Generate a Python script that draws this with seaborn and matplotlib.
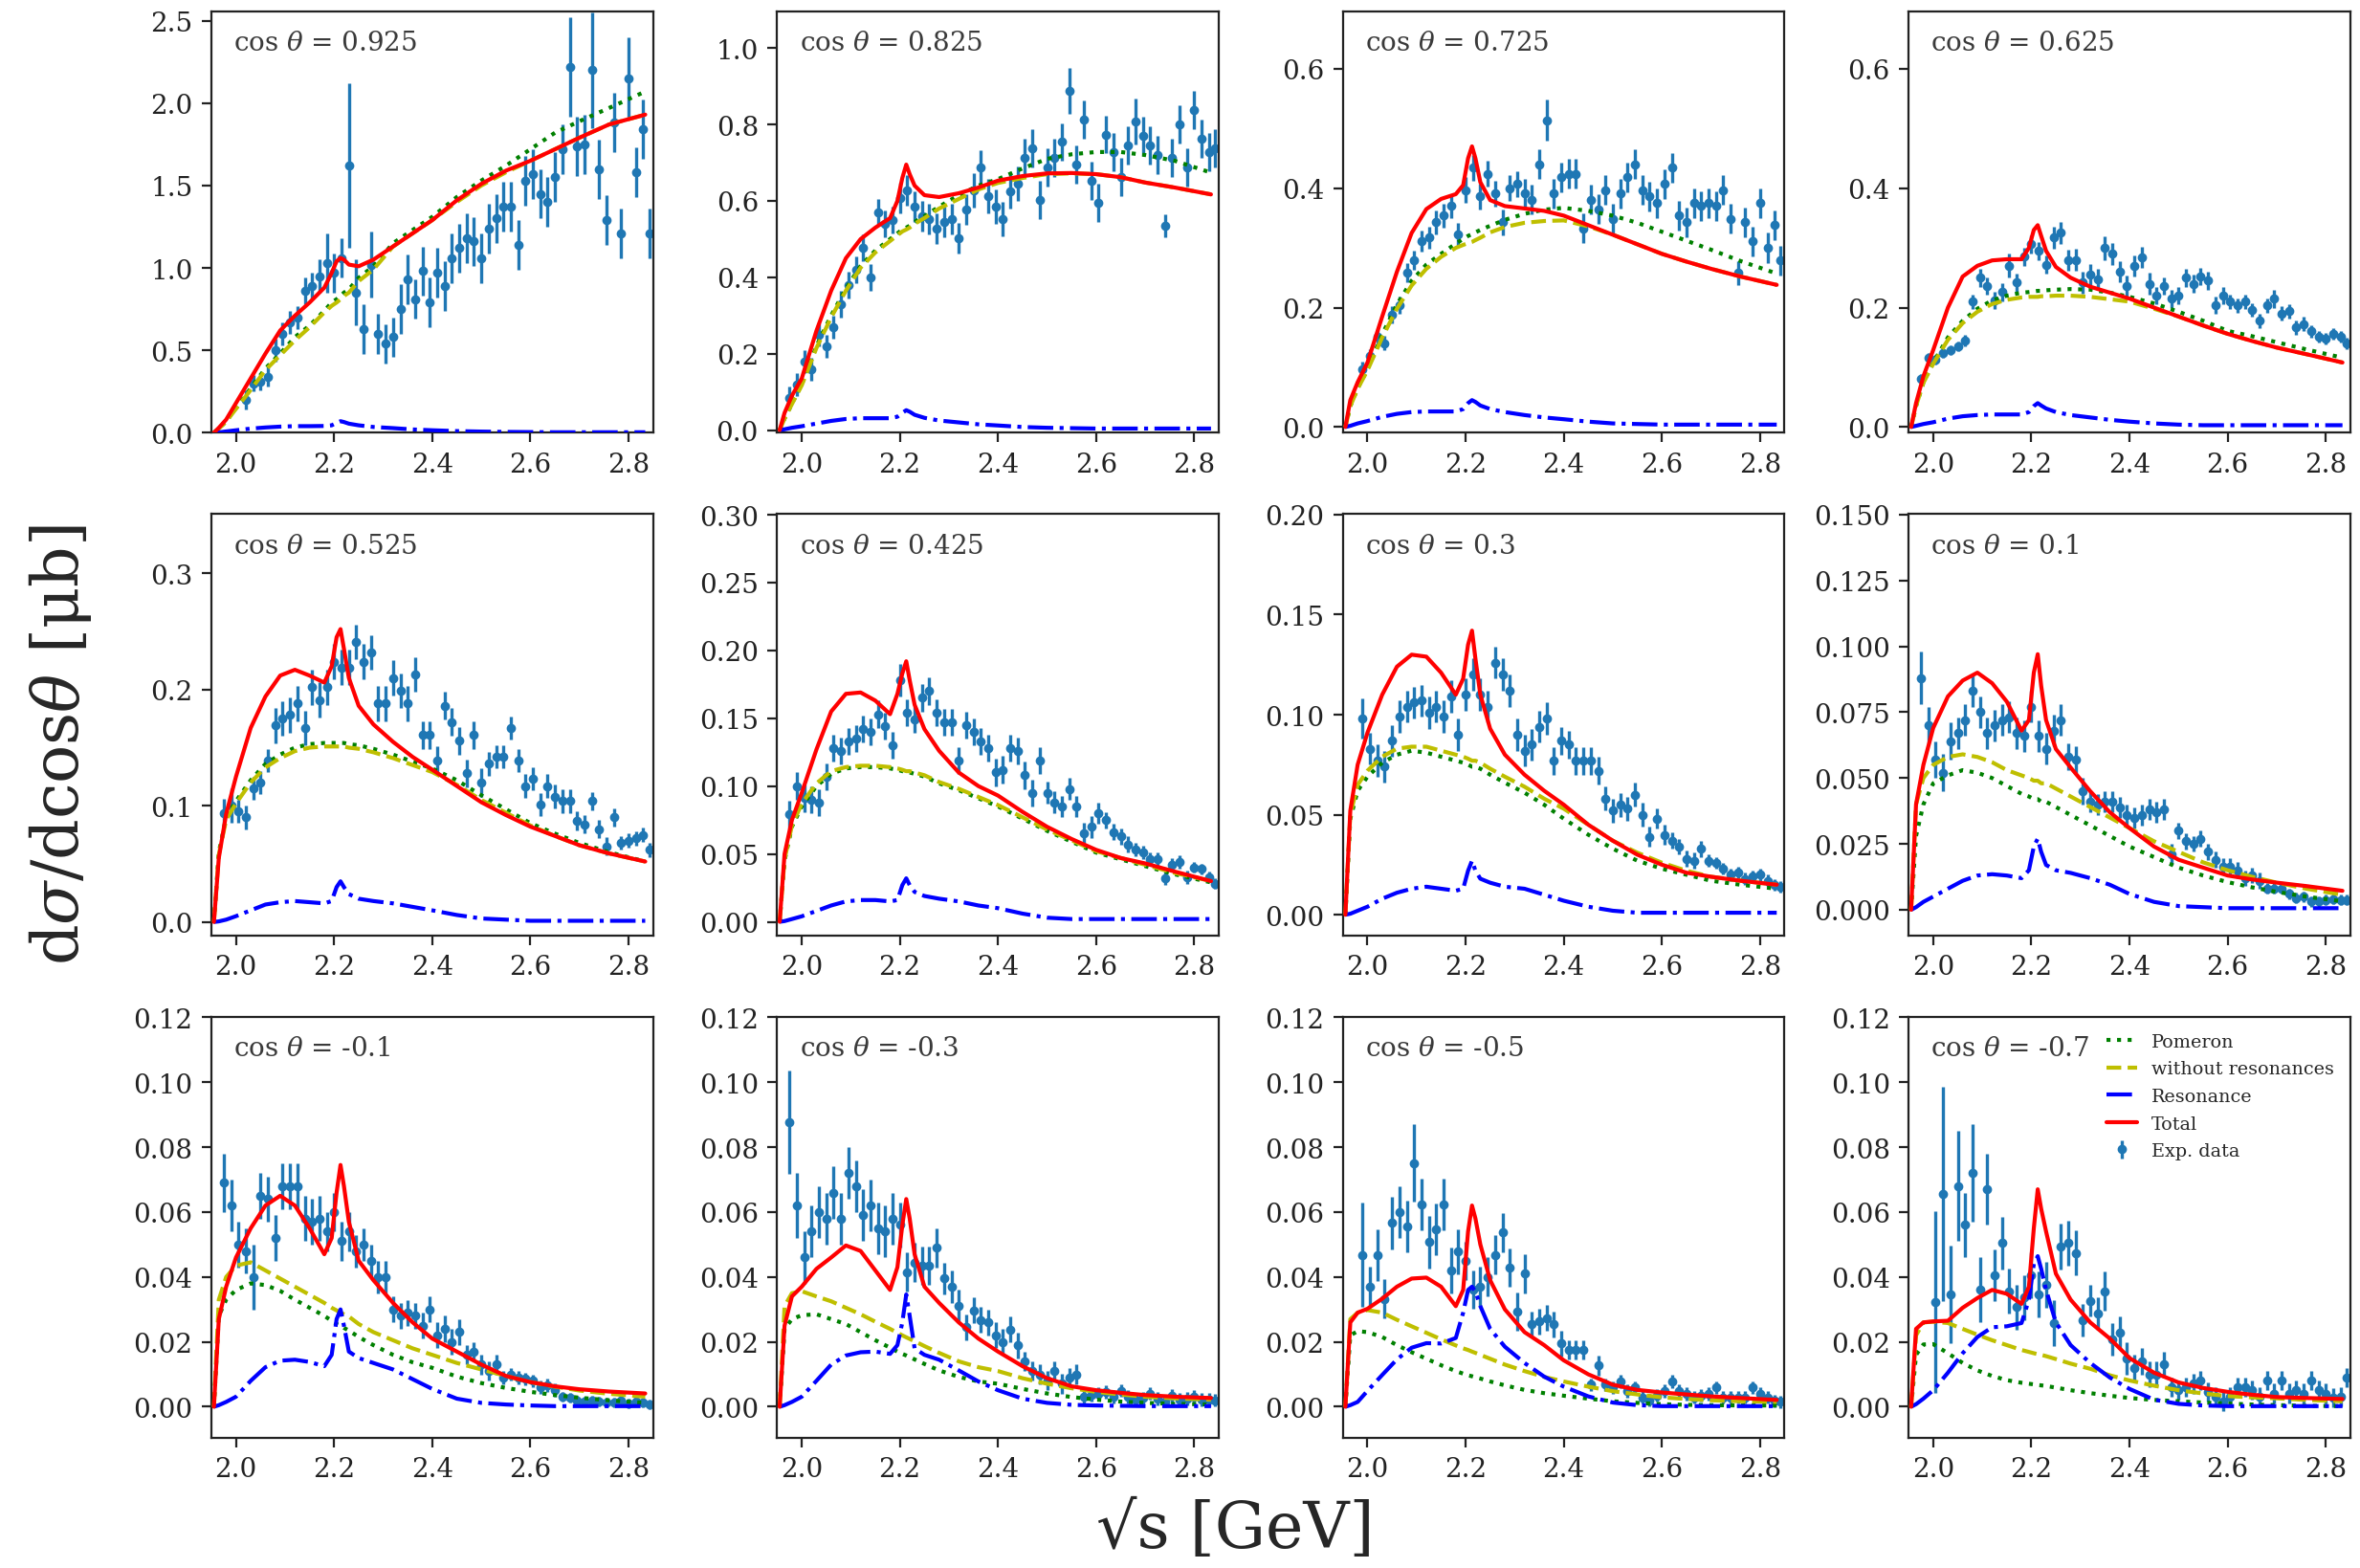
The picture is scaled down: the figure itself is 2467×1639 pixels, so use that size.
import numpy as np
import pandas as pd
import matplotlib
matplotlib.use("Agg")
import matplotlib.pyplot as plt
import seaborn as sns
from matplotlib.ticker import MultipleLocator

nan = float("nan")

# ---------------- data ----------------
angles = ["0.925", "0.825", "0.725", "0.625", "0.525", "0.425",
          "0.3", "0.1", "-0.1", "-0.3", "-0.5", "-0.7"]

x_data = [1.975, 1.990, 2.005, 2.020, 2.035, 2.050, 2.065, 2.080, 2.095, 2.110,
          2.125, 2.140, 2.155, 2.170, 2.185, 2.200, 2.215, 2.230, 2.245, 2.260,
          2.275, 2.290, 2.305, 2.320, 2.335, 2.350, 2.365, 2.380, 2.395, 2.410,
          2.425, 2.440, 2.455, 2.470, 2.485, 2.500, 2.515, 2.530, 2.545, 2.560,
          2.575, 2.590, 2.605, 2.620, 2.635, 2.650, 2.665, 2.680, 2.695, 2.710,
          2.725, 2.740, 2.755, 2.770, 2.785, 2.800, 2.815, 2.830, 2.842]

x_curve = [1.955, 1.965, 1.98, 2.0, 2.03, 2.06, 2.09, 2.12, 2.15, 2.18,
           2.195, 2.205, 2.213, 2.22, 2.23, 2.25, 2.28, 2.32, 2.36, 2.4,
           2.45, 2.5, 2.55, 2.6, 2.65, 2.7, 2.76, 2.834]

# experimental data (value, error) per angle
y_0925 = [nan, nan, nan, 0.20, 0.30, 0.31, 0.34, 0.50, 0.60, 0.67,
          0.70, 0.86, 0.89, 0.95, 1.03, 0.97, 1.06, 1.62, 0.85, 0.63,
          1.02, 0.60, 0.54, 0.58, 0.75, 0.93, 0.81, 0.98, 0.79, 0.97,
          0.89, 1.06, 1.12, 1.18, 1.16, 1.06, 1.24, 1.30, 1.37, 1.37,
          1.14, 1.53, 1.57, 1.45, 1.40, 1.55, 1.72, 2.22, 1.74, 1.75,
          2.20, 1.60, 1.29, 1.88, 1.21, 2.15, 1.58, 1.84, 1.21]
e_0925 = [0, 0, 0, 0.06, 0.05, 0.05, 0.06, 0.07, 0.07, 0.07,
          0.07, 0.08, 0.08, 0.10, 0.18, 0.12, 0.12, 0.50, 0.20, 0.15,
          0.20, 0.12, 0.12, 0.12, 0.15, 0.15, 0.12, 0.15, 0.15, 0.15,
          0.15, 0.15, 0.15, 0.15, 0.15, 0.15, 0.15, 0.15, 0.15, 0.15,
          0.15, 0.15, 0.15, 0.15, 0.15, 0.15, 0.15, 0.30, 0.18, 0.18,
          0.35, 0.18, 0.15, 0.18, 0.15, 0.25, 0.15, 0.18, 0.15]

y_0825 = [0.085, 0.12, 0.18, 0.16, 0.25, 0.22, 0.27, 0.33, 0.38, 0.42,
          0.478, 0.40, 0.57, 0.54, 0.55, 0.607, 0.628, 0.586, 0.56, 0.553,
          0.528, 0.545, 0.553, 0.503, 0.578, 0.628, 0.687, 0.612, 0.586, 0.553,
          0.624, 0.645, 0.712, 0.737, 0.603, 0.687, 0.712, 0.754, 0.887, 0.695,
          0.812, 0.653, 0.595, 0.774, 0.728, 0.662, 0.745, 0.808, 0.77, 0.745,
          0.72, 0.536, 0.712, 0.80, 0.687, 0.837, 0.762, 0.728, 0.737]
e_0825 = [0.03, 0.03, 0.03, 0.03, 0.03, 0.03, 0.03, 0.035, 0.035, 0.035,
          0.035, 0.035, 0.035, 0.035, 0.035, 0.04, 0.04, 0.04, 0.04, 0.04,
          0.04, 0.04, 0.04, 0.04, 0.04, 0.045, 0.045, 0.045, 0.045, 0.045,
          0.045, 0.045, 0.05, 0.05, 0.05, 0.05, 0.05, 0.05, 0.06, 0.05,
          0.05, 0.05, 0.05, 0.05, 0.05, 0.05, 0.05, 0.06, 0.05, 0.05,
          0.05, 0.03, 0.05, 0.05, 0.05, 0.05, 0.05, 0.05, 0.05]

y_0725 = [nan, 0.097, 0.119, 0.151, 0.14, 0.188, 0.204, 0.258, 0.279, 0.311,
          0.317, 0.343, 0.354, 0.37, 0.322, 0.397, 0.434, 0.386, 0.424, 0.391,
          0.343, 0.40, 0.407, 0.391, 0.381, 0.44, 0.514, 0.391, 0.418, 0.424,
          0.424, 0.333, 0.381, 0.365, 0.397, 0.349, 0.391, 0.418, 0.44, 0.397,
          0.386, 0.375, 0.407, 0.434, 0.354, 0.343, 0.375, 0.37, 0.375, 0.37,
          0.397, 0.349, 0.258, 0.343, 0.311, 0.375, 0.30, 0.338, 0.279]
e_0725 = [0, 0.012, 0.012, 0.012, 0.012, 0.014, 0.014, 0.016, 0.016, 0.018,
          0.018, 0.02, 0.02, 0.02, 0.02, 0.022, 0.022, 0.022, 0.022, 0.022,
          0.022, 0.022, 0.022, 0.025, 0.025, 0.025, 0.035, 0.025, 0.025, 0.025,
          0.025, 0.025, 0.025, 0.025, 0.025, 0.025, 0.025, 0.025, 0.025, 0.025,
          0.025, 0.025, 0.025, 0.025, 0.025, 0.025, 0.025, 0.025, 0.025, 0.025,
          0.025, 0.025, 0.02, 0.025, 0.025, 0.025, 0.025, 0.025, 0.025]

y_0625 = [0.081, 0.116, 0.112, 0.124, 0.129, 0.135, 0.145, 0.21, 0.25, 0.236,
          0.212, 0.226, 0.27, 0.242, 0.285, 0.306, 0.295, 0.272, 0.317, 0.325,
          0.279, 0.28, 0.242, 0.255, 0.247, 0.30, 0.29, 0.26, 0.236, 0.27,
          0.284, 0.24, 0.22, 0.236, 0.215, 0.22, 0.25, 0.24, 0.252, 0.245,
          0.204, 0.22, 0.21, 0.204, 0.21, 0.196, 0.178, 0.204, 0.215, 0.19,
          0.194, 0.167, 0.172, 0.16, 0.151, 0.148, 0.156, 0.151, 0.14]
e_0625 = [0.008, 0.008, 0.008, 0.008, 0.008, 0.008, 0.01, 0.012, 0.015, 0.015,
          0.015, 0.015, 0.02, 0.015, 0.015, 0.015, 0.015, 0.015, 0.018, 0.018,
          0.018, 0.018, 0.018, 0.018, 0.018, 0.02, 0.018, 0.018, 0.018, 0.018,
          0.018, 0.018, 0.015, 0.015, 0.015, 0.015, 0.015, 0.015, 0.015, 0.015,
          0.015, 0.015, 0.012, 0.012, 0.012, 0.012, 0.012, 0.012, 0.015, 0.012,
          0.012, 0.012, 0.012, 0.01, 0.01, 0.01, 0.01, 0.01, 0.01]

y_0525 = [0.094, 0.10, 0.095, 0.09, 0.115, 0.12, 0.139, 0.169, 0.175, 0.178,
          0.188, 0.167, 0.202, 0.191, 0.202, 0.224, 0.219, 0.219, 0.241, 0.224,
          0.232, 0.188, 0.188, 0.21, 0.199, 0.188, 0.213, 0.161, 0.161, 0.139,
          0.186, 0.172, 0.156, 0.128, 0.161, 0.12, 0.136, 0.142, 0.142, 0.167,
          0.139, 0.117, 0.123, 0.101, 0.117, 0.108, 0.104, 0.104, 0.087, 0.084,
          0.104, 0.08, 0.065, 0.09, 0.068, 0.07, 0.072, 0.075, 0.062]
e_0525 = [0.012, 0.015, 0.01, 0.01, 0.01, 0.01, 0.01, 0.015, 0.015, 0.015,
          0.015, 0.015, 0.015, 0.015, 0.015, 0.015, 0.015, 0.015, 0.015, 0.015,
          0.015, 0.015, 0.015, 0.015, 0.015, 0.015, 0.015, 0.012, 0.012, 0.012,
          0.012, 0.012, 0.012, 0.012, 0.012, 0.012, 0.01, 0.01, 0.01, 0.01,
          0.01, 0.01, 0.01, 0.01, 0.01, 0.01, 0.01, 0.01, 0.008, 0.008,
          0.008, 0.008, 0.008, 0.008, 0.006, 0.006, 0.006, 0.006, 0.006]

y_0425 = [0.079, 0.10, 0.091, 0.09, 0.088, 0.107, 0.128, 0.126, 0.133, 0.135,
          0.142, 0.14, 0.153, 0.144, 0.13, 0.178, 0.154, 0.149, 0.165, 0.17,
          0.154, 0.147, 0.147, 0.119, 0.145, 0.14, 0.133, 0.128, 0.11, 0.112,
          0.128, 0.126, 0.108, 0.095, 0.119, 0.095, 0.088, 0.085, 0.098, 0.085,
          0.065, 0.07, 0.08, 0.075, 0.066, 0.063, 0.057, 0.053, 0.051, 0.046,
          0.046, 0.032, 0.042, 0.044, 0.033, 0.04, 0.039, 0.033, 0.028]
e_0425 = [0.01, 0.01, 0.01, 0.01, 0.01, 0.01, 0.01, 0.01, 0.01, 0.01,
          0.01, 0.01, 0.01, 0.01, 0.01, 0.012, 0.01, 0.01, 0.01, 0.01,
          0.01, 0.01, 0.01, 0.01, 0.01, 0.01, 0.01, 0.01, 0.01, 0.01,
          0.01, 0.01, 0.01, 0.01, 0.01, 0.008, 0.008, 0.008, 0.008, 0.008,
          0.008, 0.008, 0.008, 0.006, 0.006, 0.006, 0.006, 0.005, 0.005, 0.005,
          0.005, 0.005, 0.005, 0.005, 0.005, 0.004, 0.004, 0.004, 0.004]

y_03 = [nan, 0.098, 0.083, 0.077, 0.074, 0.087, 0.099, 0.104, 0.106, 0.107,
        0.101, 0.104, 0.099, 0.109, 0.09, 0.11, 0.12, 0.11, 0.104, 0.126,
        0.12, 0.112, 0.09, 0.082, 0.085, 0.094, 0.098, 0.077, 0.087, 0.085,
        0.077, 0.077, 0.077, 0.072, 0.058, 0.052, 0.055, 0.053, 0.06, 0.05,
        0.039, 0.048, 0.04, 0.037, 0.034, 0.028, 0.027, 0.033, 0.027, 0.026,
        0.023, 0.02, 0.021, 0.018, 0.019, 0.02, 0.017, 0.015, 0.014]
e_03 = [0, 0.01, 0.008, 0.008, 0.008, 0.008, 0.008, 0.008, 0.008, 0.008,
        0.008, 0.008, 0.008, 0.008, 0.008, 0.008, 0.008, 0.008, 0.008, 0.008,
        0.008, 0.008, 0.008, 0.008, 0.008, 0.008, 0.008, 0.007, 0.007, 0.007,
        0.007, 0.007, 0.007, 0.007, 0.006, 0.006, 0.006, 0.006, 0.006, 0.006,
        0.005, 0.005, 0.005, 0.004, 0.004, 0.004, 0.004, 0.004, 0.003, 0.003,
        0.003, 0.003, 0.003, 0.003, 0.003, 0.003, 0.003, 0.003, 0.003]

y_01 = [0.088, 0.07, 0.057, 0.052, 0.064, 0.067, 0.072, 0.083, 0.075, 0.067,
        0.07, 0.072, 0.073, 0.067, 0.066, 0.077, 0.066, 0.061, 0.068, 0.072,
        0.058, 0.057, 0.045, 0.041, 0.040, 0.041, 0.041, 0.039, 0.036, 0.035,
        0.036, 0.038, 0.037, 0.038, 0.021, 0.03, 0.026, 0.025, 0.027, 0.022,
        0.019, 0.0165, 0.0165, 0.015, 0.012, 0.013, 0.011, 0.008, 0.008, 0.008,
        0.006, 0.0045, 0.005, 0.0032, 0.0032, 0.0038, 0.004, 0.0038, 0.0038]
e_01 = [0.01, 0.007, 0.007, 0.007, 0.007, 0.006, 0.006, 0.006, 0.006, 0.006,
        0.006, 0.006, 0.006, 0.006, 0.006, 0.006, 0.006, 0.006, 0.006, 0.006,
        0.005, 0.005, 0.005, 0.004, 0.004, 0.004, 0.004, 0.004, 0.004, 0.004,
        0.004, 0.004, 0.004, 0.004, 0.004, 0.003, 0.003, 0.003, 0.003, 0.003,
        0.003, 0.003, 0.003, 0.003, 0.003, 0.003, 0.003, 0.002, 0.002, 0.002,
        0.002, 0.002, 0.002, 0.002, 0.002, 0.002, 0.002, 0.002, 0.002]

y_m01 = [0.069, 0.062, 0.05, 0.048, 0.04, 0.065, 0.064, 0.052, 0.068, 0.068,
         0.068, 0.058, 0.057, 0.058, 0.054, 0.06, 0.051, 0.054, 0.048, 0.05,
         0.045, 0.04, 0.04, 0.03, 0.028, 0.029, 0.028, 0.025, 0.03, 0.022,
         0.024, 0.02, 0.023, 0.016, 0.017, 0.013, 0.011, 0.013, 0.009, 0.01,
         0.009, 0.0086, 0.008, 0.0061, 0.0066, 0.0051, 0.003, 0.0027, 0.002, 0.0017,
         0.002, 0.0015, 0.0013, 0.0013, 0.002, 0.001, 0.0017, 0.0012, 0.0008]
e_m01 = [0.009, 0.008, 0.007, 0.007, 0.01, 0.007, 0.007, 0.007, 0.007, 0.007,
         0.007, 0.007, 0.007, 0.007, 0.006, 0.006, 0.006, 0.006, 0.005, 0.005,
         0.005, 0.005, 0.005, 0.004, 0.004, 0.004, 0.004, 0.004, 0.004, 0.004,
         0.004, 0.004, 0.004, 0.003, 0.003, 0.003, 0.003, 0.003, 0.002, 0.002,
         0.002, 0.002, 0.002, 0.002, 0.002, 0.002, 0.0015, 0.0015, 0.0015, 0.0015,
         0.0015, 0.0015, 0.0015, 0.0015, 0.0015, 0.0015, 0.0015, 0.0015, 0.0015]

y_m03 = [0.0877, 0.062, 0.046, 0.054, 0.06, 0.058, 0.066, 0.058, 0.072, 0.068,
         0.059, 0.062, 0.055, 0.054, 0.058, 0.056, 0.0415, 0.0445, 0.0435, 0.0435,
         0.049, 0.0395, 0.037, 0.031, 0.0245, 0.0297, 0.0268, 0.026, 0.022, 0.02,
         0.0238, 0.0189, 0.014, 0.011, 0.01, 0.0081, 0.011, 0.0071, 0.009, 0.01,
         0.0031, 0.0036, 0.0041, 0.0046, 0.0031, 0.005, 0.0031, 0.0022, 0.0027, 0.0041,
         0.0025, 0.0017, 0.0033, 0.0022, 0.0025, 0.0031, 0.0022, 0.0022, 0.002]
e_m03 = [0.016, 0.01, 0.008, 0.008, 0.008, 0.008, 0.008, 0.008, 0.008, 0.008,
         0.008, 0.008, 0.008, 0.008, 0.008, 0.007, 0.006, 0.006, 0.006, 0.006,
         0.006, 0.005, 0.005, 0.005, 0.004, 0.004, 0.004, 0.004, 0.004, 0.004,
         0.004, 0.004, 0.003, 0.003, 0.003, 0.003, 0.003, 0.003, 0.003, 0.003,
         0.002, 0.002, 0.002, 0.002, 0.002, 0.002, 0.002, 0.002, 0.002, 0.002,
         0.002, 0.002, 0.002, 0.002, 0.002, 0.002, 0.002, 0.002, 0.002]

y_m05 = [nan, 0.0468, 0.0371, 0.0468, 0.0332, 0.0566, 0.060, 0.0556, 0.0751, 0.0624,
         0.0507, 0.0546, 0.0624, 0.042, 0.0478, 0.0449, 0.0361, 0.0371, 0.04, 0.0468,
         0.0537, 0.0429, 0.0293, 0.041, 0.0254, 0.0263, 0.0273, 0.0254, 0.0195, 0.0176,
         0.0176, 0.0176, 0.0068, 0.0127, 0.0068, 0.0059, 0.0078, 0.0049, 0.0059, 0.0029,
         0.002, 0.0035, 0.0049, 0.0078, 0.0049, 0.0039, 0.0029, 0.0035, 0.0039, 0.0059,
         0.0029, 0.0029, 0.0029, 0.0029, 0.0059, 0.0039, 0.0029, 0.0018, 0.0015]
e_m05 = [0, 0.016, 0.006, 0.008, 0.006, 0.008, 0.008, 0.008, 0.012, 0.008,
         0.008, 0.008, 0.008, 0.007, 0.007, 0.006, 0.006, 0.006, 0.006, 0.006,
         0.006, 0.006, 0.006, 0.006, 0.004, 0.004, 0.004, 0.004, 0.004, 0.003,
         0.003, 0.003, 0.002, 0.003, 0.002, 0.002, 0.002, 0.002, 0.002, 0.002,
         0.002, 0.002, 0.002, 0.002, 0.002, 0.002, 0.002, 0.002, 0.002, 0.002,
         0.002, 0.002, 0.002, 0.002, 0.002, 0.002, 0.002, 0.002, 0.002]

y_m07 = [nan, nan, 0.0322, 0.0656, 0.0346, 0.068, 0.056, 0.072, 0.0361, 0.067,
         0.0405, 0.0504, 0.0356, 0.0307, 0.0336, 0.0405, 0.0346, 0.0376, 0.0258, 0.0494,
         0.0504, 0.0474, 0.0268, 0.0327, 0.0287, 0.0356, 0.0209, 0.0228, 0.015, 0.012,
         0.014, 0.01, 0.01, 0.013, 0.0061, 0.0051, 0.0061, 0.0071, 0.0081, 0.0046,
         0.0031, 0.0017, 0.0031, 0.0061, 0.0061, 0.0051, 0.0031, 0.0081, 0.0041, 0.0081,
         0.0041, 0.0051, 0.0041, 0.0081, 0.0051, 0.0041, 0.0027, 0.0031, 0.009]
e_m07 = [0, 0, 0.028, 0.033, 0.015, 0.017, 0.01, 0.015, 0.01, 0.011,
         0.008, 0.008, 0.007, 0.007, 0.007, 0.007, 0.007, 0.007, 0.007, 0.007,
         0.007, 0.007, 0.005, 0.005, 0.005, 0.006, 0.005, 0.005, 0.005, 0.004,
         0.004, 0.004, 0.004, 0.004, 0.003, 0.003, 0.003, 0.003, 0.003, 0.003,
         0.003, 0.003, 0.003, 0.003, 0.003, 0.003, 0.003, 0.003, 0.003, 0.003,
         0.003, 0.003, 0.003, 0.003, 0.003, 0.003, 0.003, 0.003, 0.003]

# model curves: Pomeron, without resonances, Resonance, Total
pom_0925 = [0, 0.025, 0.07, 0.15, 0.27, 0.39, 0.48, 0.58, 0.65, 0.74,
            0.79, 0.81, 0.83, 0.85, 0.87, 0.94, 1.01, 1.15, 1.23, 1.31,
            1.43, 1.53, 1.62, 1.72, 1.82, 1.89, 1.97, 2.07]
wo_0925 = [0, 0.024, 0.068, 0.145, 0.26, 0.38, 0.47, 0.56, 0.64, 0.73,
           0.77, 0.79, 0.81, 0.83, 0.85, 0.92, 0.99, 1.13, 1.21, 1.29,
           1.40, 1.50, 1.58, 1.65, 1.72, 1.79, 1.87, 1.93]
res_0925 = [0, 0.002, 0.008, 0.015, 0.025, 0.032, 0.037, 0.04, 0.04, 0.041,
            0.045, 0.06, 0.07, 0.065, 0.055, 0.045, 0.035, 0.028, 0.02, 0.015,
            0.01, 0.007, 0.005, 0.004, 0.003, 0.003, 0.003, 0.003]
tot_0925 = [0, 0.03, 0.08, 0.18, 0.33, 0.48, 0.62, 0.71, 0.79, 0.88,
            0.97, 1.04, 1.06, 1.05, 1.02, 1.01, 1.05, 1.13, 1.21, 1.29,
            1.41, 1.51, 1.59, 1.65, 1.72, 1.79, 1.87, 1.93]

pom_0825 = [0, 0.03, 0.07, 0.12, 0.22, 0.30, 0.37, 0.43, 0.47, 0.50,
            0.515, 0.525, 0.53, 0.535, 0.545, 0.56, 0.585, 0.615, 0.64, 0.657,
            0.685, 0.71, 0.722, 0.728, 0.728, 0.72, 0.705, 0.674]
wo_0825 = [0, 0.03, 0.068, 0.117, 0.215, 0.295, 0.365, 0.425, 0.465, 0.495,
           0.51, 0.52, 0.525, 0.53, 0.54, 0.555, 0.58, 0.605, 0.63, 0.647,
           0.66, 0.67, 0.672, 0.67, 0.662, 0.648, 0.635, 0.617]
res_0825 = [0, 0.002, 0.006, 0.01, 0.017, 0.024, 0.029, 0.031, 0.031, 0.031,
            0.035, 0.045, 0.052, 0.048, 0.04, 0.032, 0.025, 0.02, 0.015, 0.012,
            0.008, 0.006, 0.005, 0.004, 0.004, 0.004, 0.004, 0.004]
tot_0825 = [0, 0.045, 0.09, 0.135, 0.26, 0.365, 0.45, 0.50, 0.53, 0.555,
            0.60, 0.66, 0.695, 0.67, 0.64, 0.615, 0.61, 0.62, 0.635, 0.653,
            0.665, 0.672, 0.673, 0.67, 0.662, 0.648, 0.635, 0.617]

pom_0725 = [0, 0.035, 0.065, 0.097, 0.155, 0.205, 0.245, 0.272, 0.29, 0.307,
            0.315, 0.32, 0.323, 0.326, 0.33, 0.337, 0.347, 0.357, 0.364, 0.367,
            0.362, 0.354, 0.342, 0.327, 0.312, 0.297, 0.278, 0.257]
wo_0725 = [0, 0.035, 0.064, 0.095, 0.15, 0.198, 0.237, 0.265, 0.285, 0.3,
           0.305, 0.308, 0.31, 0.313, 0.317, 0.326, 0.335, 0.342, 0.345, 0.346,
           0.336, 0.322, 0.306, 0.29, 0.277, 0.265, 0.252, 0.238]
res_0725 = [0, 0.002, 0.006, 0.01, 0.017, 0.022, 0.025, 0.026, 0.026, 0.026,
            0.03, 0.04, 0.045, 0.042, 0.036, 0.03, 0.025, 0.02, 0.016, 0.013,
            0.009, 0.006, 0.005, 0.004, 0.004, 0.004, 0.004, 0.004]
tot_0725 = [0, 0.045, 0.075, 0.108, 0.185, 0.26, 0.325, 0.365, 0.382, 0.39,
            0.405, 0.45, 0.47, 0.45, 0.41, 0.38, 0.37, 0.366, 0.362, 0.354,
            0.338, 0.322, 0.306, 0.29, 0.277, 0.265, 0.252, 0.238]

pom_0625 = [0, 0.035, 0.075, 0.108, 0.15, 0.178, 0.198, 0.212, 0.22, 0.225,
            0.226, 0.227, 0.228, 0.228, 0.229, 0.23, 0.231, 0.23, 0.225, 0.218,
            0.207, 0.193, 0.178, 0.161, 0.152, 0.142, 0.13, 0.116]
wo_0625 = [0, 0.035, 0.074, 0.106, 0.146, 0.174, 0.193, 0.206, 0.213, 0.217,
           0.218, 0.218, 0.218, 0.219, 0.219, 0.22, 0.22, 0.218, 0.214, 0.21,
           0.198, 0.185, 0.17, 0.156, 0.144, 0.133, 0.122, 0.108]
res_0625 = [0, 0.002, 0.005, 0.008, 0.014, 0.018, 0.02, 0.021, 0.021, 0.021,
            0.025, 0.035, 0.04, 0.036, 0.031, 0.025, 0.02, 0.016, 0.012, 0.009,
            0.006, 0.004, 0.003, 0.003, 0.003, 0.003, 0.003, 0.003]
tot_0625 = [0, 0.04, 0.085, 0.129, 0.2, 0.252, 0.27, 0.279, 0.281, 0.281,
            0.3, 0.33, 0.338, 0.32, 0.295, 0.268, 0.25, 0.235, 0.225, 0.215,
            0.2, 0.185, 0.17, 0.156, 0.144, 0.133, 0.122, 0.108]

pom_0525 = [0, 0.06, 0.09, 0.104, 0.122, 0.136, 0.144, 0.15, 0.153, 0.154,
            0.154, 0.154, 0.154, 0.154, 0.153, 0.152, 0.149, 0.144, 0.138, 0.132,
            0.122, 0.109, 0.097, 0.085, 0.076, 0.068, 0.06, 0.052]
wo_0525 = [0, 0.058, 0.088, 0.102, 0.12, 0.133, 0.141, 0.147, 0.15, 0.151,
           0.151, 0.151, 0.151, 0.151, 0.15, 0.149, 0.146, 0.141, 0.135, 0.129,
           0.118, 0.105, 0.094, 0.083, 0.074, 0.066, 0.059, 0.052]
res_0525 = [0, 0.0005, 0.002, 0.005, 0.01, 0.015, 0.017, 0.018, 0.017, 0.016,
            0.018, 0.03, 0.035, 0.03, 0.024, 0.02, 0.018, 0.016, 0.013, 0.01,
            0.006, 0.003, 0.002, 0.001, 0.001, 0.001, 0.001, 0.001]
tot_0525 = [0, 0.055, 0.093, 0.125, 0.167, 0.194, 0.212, 0.217, 0.212, 0.206,
            0.22, 0.245, 0.252, 0.235, 0.21, 0.186, 0.17, 0.155, 0.142, 0.131,
            0.117, 0.103, 0.092, 0.082, 0.074, 0.066, 0.059, 0.052]

pom_0425 = [0, 0.045, 0.07, 0.085, 0.1, 0.109, 0.113, 0.114, 0.114, 0.113,
            0.112, 0.111, 0.11, 0.11, 0.109, 0.107, 0.102, 0.097, 0.091, 0.085,
            0.076, 0.067, 0.059, 0.051, 0.046, 0.041, 0.035, 0.029]
wo_0425 = [0, 0.046, 0.071, 0.087, 0.102, 0.111, 0.114, 0.115, 0.115, 0.114,
           0.113, 0.112, 0.111, 0.111, 0.11, 0.108, 0.103, 0.098, 0.092, 0.086,
           0.077, 0.068, 0.06, 0.052, 0.047, 0.042, 0.036, 0.03]
res_0425 = [0, 0.0005, 0.002, 0.004, 0.008, 0.012, 0.015, 0.016, 0.016, 0.015,
            0.016, 0.027, 0.032, 0.027, 0.022, 0.019, 0.017, 0.015, 0.012, 0.01,
            0.006, 0.003, 0.002, 0.002, 0.002, 0.002, 0.002, 0.002]
tot_0425 = [0, 0.05, 0.075, 0.095, 0.127, 0.155, 0.168, 0.169, 0.163, 0.153,
            0.168, 0.183, 0.192, 0.178, 0.16, 0.142, 0.126, 0.11, 0.1, 0.093,
            0.081, 0.07, 0.061, 0.053, 0.047, 0.043, 0.037, 0.03]

pom_03 = [0, 0.048, 0.062, 0.069, 0.076, 0.08, 0.082, 0.081, 0.079, 0.077,
          0.076, 0.075, 0.074, 0.074, 0.073, 0.07, 0.066, 0.061, 0.055, 0.048,
          0.04, 0.033, 0.027, 0.023, 0.02, 0.017, 0.015, 0.013]
wo_03 = [0, 0.05, 0.065, 0.072, 0.079, 0.083, 0.084, 0.084, 0.082, 0.08,
         0.079, 0.078, 0.077, 0.077, 0.076, 0.073, 0.069, 0.064, 0.058, 0.053,
         0.045, 0.037, 0.031, 0.026, 0.022, 0.019, 0.017, 0.015]
res_03 = [0, 0.0005, 0.002, 0.004, 0.008, 0.011, 0.013, 0.014, 0.013, 0.012,
          0.013, 0.022, 0.027, 0.022, 0.018, 0.016, 0.014, 0.013, 0.01, 0.007,
          0.004, 0.002, 0.001, 0.001, 0.001, 0.001, 0.001, 0.001]
tot_03 = [0, 0.052, 0.075, 0.091, 0.11, 0.124, 0.13, 0.129, 0.121, 0.11,
          0.118, 0.135, 0.142, 0.128, 0.11, 0.093, 0.08, 0.07, 0.062, 0.055,
          0.045, 0.037, 0.03, 0.025, 0.021, 0.019, 0.017, 0.015]

pom_01 = [0, 0.028, 0.04, 0.048, 0.051, 0.053, 0.052, 0.05, 0.047, 0.044,
          0.043, 0.042, 0.042, 0.041, 0.041, 0.039, 0.036, 0.032, 0.028, 0.024,
          0.02, 0.016, 0.013, 0.0105, 0.0085, 0.0068, 0.005, 0.0032]
wo_01 = [0, 0.04, 0.05, 0.055, 0.058, 0.059, 0.058, 0.056, 0.053, 0.051,
         0.05, 0.049, 0.049, 0.048, 0.048, 0.046, 0.043, 0.039, 0.035, 0.031,
         0.026, 0.022, 0.018, 0.015, 0.0125, 0.0103, 0.008, 0.0057]
res_01 = [0, 0.001, 0.003, 0.005, 0.008, 0.011, 0.013, 0.0135, 0.013, 0.012,
          0.015, 0.024, 0.027, 0.022, 0.017, 0.015, 0.014, 0.012, 0.0095, 0.006,
          0.003, 0.0014, 0.001, 0.0006, 0.0006, 0.0006, 0.0006, 0.0006]
tot_01 = [0, 0.04, 0.055, 0.069, 0.081, 0.087, 0.09, 0.086, 0.079, 0.068,
          0.072, 0.09, 0.097, 0.085, 0.072, 0.061, 0.054, 0.045, 0.037, 0.031,
          0.024, 0.019, 0.016, 0.013, 0.0115, 0.0103, 0.009, 0.0072]

pom_m01 = [0, 0.028, 0.033, 0.036, 0.038, 0.0375, 0.0357, 0.033, 0.0305, 0.028,
           0.0265, 0.0255, 0.025, 0.0243, 0.0235, 0.0215, 0.019, 0.016, 0.0137, 0.012,
           0.0093, 0.0073, 0.0058, 0.0046, 0.0036, 0.0028, 0.002, 0.0012]
wo_m01 = [0, 0.033, 0.04, 0.0435, 0.0445, 0.042, 0.0395, 0.037, 0.0345, 0.032,
          0.0305, 0.0297, 0.029, 0.0285, 0.0278, 0.0255, 0.023, 0.0205, 0.018, 0.016,
          0.0135, 0.0115, 0.0095, 0.0076, 0.0062, 0.005, 0.004, 0.0031]
res_m01 = [0, 0.0005, 0.0015, 0.0031, 0.008, 0.0122, 0.0142, 0.0145, 0.0138, 0.0125,
           0.016, 0.027, 0.030, 0.025, 0.017, 0.015, 0.0135, 0.0115, 0.0085, 0.0055,
           0.0025, 0.0012, 0.0007, 0.0004, 0.0002, 0.0002, 0.0002, 0.0002]
tot_m01 = [0, 0.027, 0.037, 0.046, 0.055, 0.062, 0.065, 0.062, 0.055, 0.047,
           0.052, 0.066, 0.0745, 0.068, 0.057, 0.045, 0.039, 0.032, 0.026, 0.021,
           0.017, 0.013, 0.0095, 0.0076, 0.0063, 0.0054, 0.0047, 0.0041]

pom_m03 = [0, 0.024, 0.027, 0.0282, 0.0285, 0.027, 0.0255, 0.023, 0.0205, 0.0182,
           0.017, 0.0163, 0.0158, 0.0153, 0.0146, 0.0132, 0.0112, 0.0092, 0.0078, 0.0071,
           0.0055, 0.0041, 0.003, 0.0022, 0.0016, 0.0012, 0.0009, 0.0007]
wo_m03 = [0, 0.031, 0.035, 0.0356, 0.034, 0.0325, 0.0305, 0.0285, 0.0262, 0.024,
          0.0228, 0.022, 0.0214, 0.0209, 0.0202, 0.0187, 0.0166, 0.014, 0.0122, 0.011,
          0.0088, 0.0071, 0.0057, 0.0046, 0.0038, 0.0031, 0.0026, 0.0022]
res_m03 = [0, 0.0005, 0.0015, 0.0031, 0.008, 0.013, 0.0158, 0.0168, 0.017, 0.0163,
           0.019, 0.026, 0.0346, 0.028, 0.018, 0.016, 0.0145, 0.0112, 0.0078, 0.0051,
           0.0025, 0.0012, 0.0006, 0.0004, 0.0003, 0.0002, 0.0002, 0.0002]
tot_m03 = [0, 0.025, 0.034, 0.037, 0.0425, 0.046, 0.0497, 0.048, 0.042, 0.036,
           0.043, 0.056, 0.064, 0.058, 0.047, 0.037, 0.032, 0.026, 0.021, 0.017,
           0.0125, 0.0088, 0.0063, 0.0051, 0.0043, 0.0036, 0.0031, 0.0027]

pom_m05 = [0, 0.022, 0.0233, 0.023, 0.0215, 0.019, 0.0168, 0.0148, 0.0128, 0.011,
           0.0102, 0.0097, 0.0094, 0.0091, 0.0087, 0.0078, 0.0066, 0.0052, 0.0042, 0.0034,
           0.0025, 0.0017, 0.0012, 0.0008, 0.0006, 0.0005, 0.0004, 0.0004]
wo_m05 = [0, 0.027, 0.029, 0.0298, 0.029, 0.0268, 0.0248, 0.0228, 0.0208, 0.0189,
          0.018, 0.0175, 0.017, 0.0166, 0.016, 0.0148, 0.013, 0.011, 0.0092, 0.0078,
          0.0062, 0.0048, 0.0038, 0.0029, 0.0024, 0.002, 0.0017, 0.0015]
res_m05 = [0, 0.0005, 0.0015, 0.0049, 0.0098, 0.0146, 0.0182, 0.0196, 0.0195, 0.0212,
           0.029, 0.036, 0.037, 0.0355, 0.031, 0.024, 0.0185, 0.0135, 0.0093, 0.0062,
           0.0032, 0.0013, 0.0005, 0.0002, 0.0002, 0.0002, 0.0002, 0.0002]
tot_m05 = [0, 0.026, 0.029, 0.0302, 0.0333, 0.037, 0.0395, 0.0398, 0.037, 0.031,
           0.036, 0.054, 0.062, 0.058, 0.05, 0.039, 0.03, 0.023, 0.019, 0.0143,
           0.01, 0.0068, 0.0052, 0.0044, 0.0038, 0.0032, 0.0027, 0.0021]

pom_m07 = [0, 0.016, 0.0192, 0.0193, 0.0165, 0.0135, 0.0112, 0.0095, 0.0082, 0.0074,
           0.0071, 0.0069, 0.0067, 0.0066, 0.0064, 0.0059, 0.0051, 0.0042, 0.0034, 0.0027,
           0.0021, 0.0017, 0.0013, 0.001, 0.0007, 0.0005, 0.0003, 0.0002]
wo_m07 = [0, 0.022, 0.026, 0.0262, 0.0258, 0.024, 0.0222, 0.0205, 0.019, 0.0175,
          0.0169, 0.0165, 0.0162, 0.016, 0.0156, 0.0147, 0.0133, 0.0117, 0.0097, 0.0081,
          0.0065, 0.0051, 0.0041, 0.0033, 0.0029, 0.0026, 0.0021, 0.0017]
res_m07 = [0, 0.0008, 0.0025, 0.0051, 0.0105, 0.0165, 0.0215, 0.0245, 0.0248, 0.0258,
           0.033, 0.044, 0.0464, 0.0425, 0.036, 0.026, 0.019, 0.0135, 0.009, 0.0055,
           0.0022, 0.0009, 0.0004, 0.0002, 0.0002, 0.0002, 0.0002, 0.0002]
tot_m07 = [0, 0.024, 0.026, 0.0263, 0.0265, 0.0305, 0.0335, 0.036, 0.0348, 0.0317,
           0.037, 0.055, 0.067, 0.061, 0.054, 0.041, 0.033, 0.026, 0.021, 0.015,
           0.0105, 0.0075, 0.0058, 0.0046, 0.0037, 0.003, 0.0027, 0.0024]

exp_vals = [y_0925, y_0825, y_0725, y_0625, y_0525, y_0425, y_03, y_01, y_m01, y_m03, y_m05, y_m07]
exp_errs = [e_0925, e_0825, e_0725, e_0625, e_0525, e_0425, e_03, e_01, e_m01, e_m03, e_m05, e_m07]
pomeron = [pom_0925, pom_0825, pom_0725, pom_0625, pom_0525, pom_0425, pom_03, pom_01, pom_m01, pom_m03, pom_m05, pom_m07]
without_res = [wo_0925, wo_0825, wo_0725, wo_0625, wo_0525, wo_0425, wo_03, wo_01, wo_m01, wo_m03, wo_m05, wo_m07]
resonance = [res_0925, res_0825, res_0725, res_0625, res_0525, res_0425, res_03, res_01, res_m01, res_m03, res_m05, res_m07]
total = [tot_0925, tot_0825, tot_0725, tot_0625, tot_0525, tot_0425, tot_03, tot_01, tot_m01, tot_m03, tot_m05, tot_m07]

# axis settings
y_limits = [(0, 2.556), (-0.007, 1.096), (-0.0096, 0.696), (-0.0096, 0.696),
            (-0.0115, 0.351), (-0.01, 0.3005), (-0.0103, 0.2003), (-0.0097, 0.1502),
            (-0.0096, 0.1202), (-0.0096, 0.1202), (-0.0096, 0.1202), (-0.0096, 0.1202)]
y_steps = [0.5, 0.2, 0.2, 0.2, 0.1, 0.05, 0.05, 0.025, 0.02, 0.02, 0.02, 0.02]

# ---------------- style ----------------
sns.set_style("ticks")
plt.rcParams["font.family"] = ["DejaVu Serif", "DejaVu Sans"]
plt.rcParams["mathtext.fontset"] = "dejavuserif"
plt.rcParams["axes.edgecolor"] = "#222222"
plt.rcParams["xtick.color"] = "#222222"
plt.rcParams["ytick.color"] = "#222222"
plt.rcParams["axes.linewidth"] = 0.8
plt.rcParams["xtick.major.size"] = 3.5
plt.rcParams["ytick.major.size"] = 3.5
plt.rcParams["xtick.labelsize"] = 10
plt.rcParams["ytick.labelsize"] = 10

fig, axes = plt.subplots(3, 4, figsize=(12.335, 8.2), dpi=200)
fig.subplots_adjust(left=0.0896, right=0.9959, top=0.9921, bottom=0.0829,
                    wspace=0.281, hspace=0.193)

for i, ax in enumerate(axes.flat):
    ax.errorbar(x_data, exp_vals[i], yerr=exp_errs[i], fmt="o", ms=2.5,
                color="#1f77b4", ecolor="#1f77b4", elinewidth=1.2,
                capsize=0, label="Exp. data", zorder=2)
    sns.lineplot(x=x_curve, y=pomeron[i], ax=ax, color="g", linestyle=":",
                 lw=1.5, label="Pomeron", legend=False, errorbar=None, zorder=3)
    sns.lineplot(x=x_curve, y=without_res[i], ax=ax, color="y", linestyle="--",
                 lw=1.5, label="without resonances", legend=False, errorbar=None, zorder=3)
    sns.lineplot(x=x_curve, y=resonance[i], ax=ax, color="b", linestyle="-.",
                 lw=1.5, label="Resonance", legend=False, errorbar=None, zorder=3)
    sns.lineplot(x=x_curve, y=total[i], ax=ax, color="r", linestyle="-",
                 lw=1.5, label="Total", legend=False, errorbar=None, zorder=4)

    ax.set_xlim(1.95, 2.85)
    ax.set_ylim(*y_limits[i])
    ax.xaxis.set_major_locator(MultipleLocator(0.2))
    ax.yaxis.set_major_locator(MultipleLocator(y_steps[i]))
    ax.set_xlabel("")
    ax.set_ylabel("")
    for s in ax.spines.values():
        s.set_visible(True)
    ax.tick_params(top=False, right=False)
    ax.text(0.05, 0.925, r"cos $\theta$ = " + angles[i], transform=ax.transAxes,
            fontsize=10, color="#3a3a3a", va="center", ha="left")

leg_ax = axes.flat[-1]
h, l = leg_ax.get_legend_handles_labels()
order = ["Pomeron", "without resonances", "Resonance", "Total", "Exp. data"]
hl = dict(zip(l, h))
leg_ax.legend([hl[k] for k in order], order, loc="upper right", frameon=False,
              prop={"family": "DejaVu Serif", "size": 6.9},
              handlelength=1.7, handletextpad=0.75, labelspacing=0.55)

fig.text(0.5233, 0.025, "√s [GeV]", ha="center", va="center", fontsize=24)
fig.text(0.0255, 0.525, r"d$\sigma$/dcos$\theta$ [μb]", ha="center", va="center",
         rotation=90, fontsize=24)

fig.savefig("out.png", dpi=200)
